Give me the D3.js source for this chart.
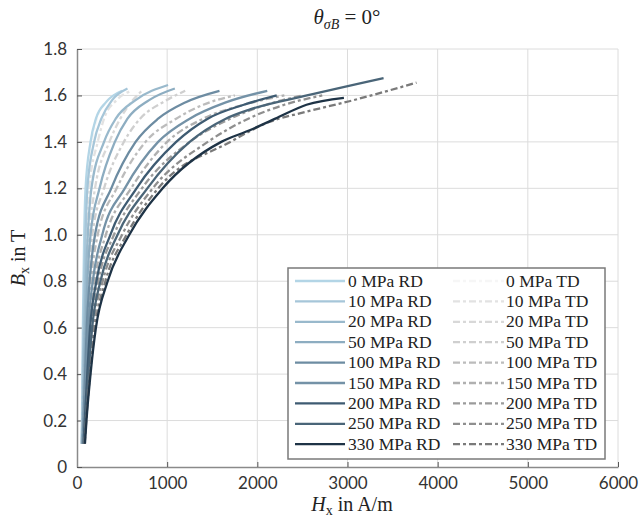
<!DOCTYPE html>
<html><head><meta charset="utf-8">
<script src="https://cdn.jsdelivr.net/npm/d3@7"></script>
<style>
html,body{margin:0;padding:0;background:#fff;}
svg{display:block;}
</style></head>
<body>
<script>
// ---- data (H in A/m, B in T) ----
const stresses = [0, 10, 20, 50, 100, 150, 200, 250, 330];
const xTicks = [0, 1000, 2000, 3000, 4000, 5000, 6000];
const yTicks = [0, 0.2, 0.4, 0.6, 0.8, 1.0, 1.2, 1.4, 1.6, 1.8];

const rd0   = [[50,0.1],[55,0.2],[60,0.4],[65,0.6],[72,0.8],[80,1.0],[95,1.2],[150,1.4],[210,1.5],[320,1.57],[500,1.62]];
const rd10  = [[52,0.1],[58,0.2],[65,0.4],[72,0.6],[82,0.8],[95,1.0],[115,1.2],[190,1.4],[270,1.5],[390,1.58],[560,1.63]];
const rd20  = [[55,0.1],[62,0.2],[72,0.4],[82,0.6],[97,0.8],[120,1.0],[160,1.2],[300,1.4],[430,1.5],[650,1.58],[1010,1.645]];
const rd50  = [[58,0.1],[66,0.2],[80,0.4],[95,0.6],[115,0.8],[150,1.0],[250,1.2],[420,1.4],[560,1.5],[800,1.58],[1085,1.63]];
const rd100 = [[62,0.1],[72,0.2],[90,0.4],[108,0.6],[140,0.8],[200,1.0],[380,1.2],[650,1.4],[900,1.5],[1200,1.57],[1580,1.62]];
const rd150 = [[67,0.1],[80,0.2],[102,0.4],[125,0.6],[175,0.8],[280,1.0],[530,1.2],[900,1.4],[1250,1.5],[1650,1.57],[2110,1.62]];
const rd200 = [[73,0.1],[86,0.2],[114,0.4],[145,0.6],[215,0.8],[370,1.0],[660,1.2],[1100,1.4],[1450,1.5],[1850,1.56],[2215,1.6]];
const rd250 = [[79,0.1],[94,0.2],[128,0.4],[168,0.6],[260,0.8],[450,1.0],[780,1.2],[1250,1.4],[1650,1.5],[1920,1.54],[2550,1.6],[3400,1.675]];
const rd330 = [[88,0.1],[105,0.2],[150,0.4],[210,0.6],[340,0.8],[580,1.0],[950,1.2],[1600,1.4],[1915,1.45],[2200,1.5],[2545,1.56],[2960,1.59]];

const td0   = [[50,0.1],[56,0.2],[62,0.4],[68,0.6],[76,0.8],[86,1.0],[105,1.2],[165,1.4],[220,1.5],[320,1.57],[480,1.61]];
const td10  = [[53,0.1],[60,0.2],[68,0.4],[76,0.6],[88,0.8],[105,1.0],[135,1.2],[230,1.4],[300,1.5],[440,1.58],[600,1.62]];
const td20  = [[56,0.1],[64,0.2],[76,0.4],[88,0.6],[105,0.8],[135,1.0],[200,1.2],[360,1.4],[480,1.5],[620,1.58],[720,1.62]];
const td50  = [[60,0.1],[68,0.2],[84,0.4],[100,0.6],[125,0.8],[170,1.0],[300,1.2],[520,1.4],[700,1.5],[950,1.57],[1200,1.62]];
const td100 = [[64,0.1],[75,0.2],[95,0.4],[115,0.6],[155,0.8],[230,1.0],[440,1.2],[760,1.4],[1100,1.5],[1400,1.56],[1750,1.6]];
const td150 = [[70,0.1],[83,0.2],[108,0.4],[135,0.6],[195,0.8],[320,1.0],[600,1.2],[1000,1.4],[1400,1.5],[1850,1.56],[2300,1.6]];
const td200 = [[76,0.1],[90,0.2],[120,0.4],[155,0.6],[235,0.8],[410,1.0],[720,1.2],[1250,1.4],[1700,1.5],[2100,1.56],[2500,1.6]];
const td250 = [[82,0.1],[98,0.2],[136,0.4],[180,0.6],[285,0.8],[500,1.0],[840,1.2],[1450,1.4],[1900,1.5],[2300,1.56],[2720,1.6]];
const td330 = [[85,0.1],[102,0.2],[145,0.4],[200,0.6],[315,0.8],[550,1.0],[900,1.2],[1700,1.4],[2140,1.487],[2545,1.53],[3020,1.575],[3765,1.655]];

const rdSeries = [rd0, rd10, rd20, rd50, rd100, rd150, rd200, rd250, rd330];
const tdSeries = [td0, td10, td20, td50, td100, td150, td200, td250, td330];
const rdColors = ['#b3d5e6','#a6c6d9','#99b9cc','#8dadc1','#6d8ca2','#7492a7','#3e5b72','#4a6578','#1e3346'];
const tdColors = ['#f6f6f6','#e2e2e2','#d8d8d8','#cfcfcf','#bcbcbc','#b0b0b0','#9b9b9b','#8f8f8f','#7a7a7a'];

(function () {
// ---- layout ----
const W = 641, Hh = 520;
const mLeft = 77, mRight = 618, mTop = 49, mBottom = 467;

const svg = d3.select('body').append('svg').attr('width', W).attr('height', Hh);
const x = d3.scaleLinear().domain([0, 6000]).range([mLeft, mRight]);
const y = d3.scaleLinear().domain([0, 1.8]).range([mBottom, mTop]);

// grid
svg.append('g').selectAll('line').data(xTicks.slice(1)).join('line')
  .attr('x1', d => x(d)).attr('x2', d => x(d)).attr('y1', mTop).attr('y2', mBottom)
  .attr('stroke', '#dcdcdc').attr('stroke-width', 1);
svg.append('g').selectAll('line').data(yTicks.slice(1)).join('line')
  .attr('x1', mLeft).attr('x2', mRight).attr('y1', d => y(d)).attr('y2', d => y(d))
  .attr('stroke', '#dcdcdc').attr('stroke-width', 1);

// axes
const xAxis = d3.axisBottom(x).tickValues(xTicks).tickSizeInner(-5).tickSizeOuter(0).tickPadding(10).tickFormat(d3.format('d'));
const yAxis = d3.axisLeft(y).tickValues(yTicks).tickSizeInner(-5).tickSizeOuter(0).tickPadding(10).tickFormat(d => d === 0 ? '0' : d3.format('.1f')(d));
const gx = svg.append('g').attr('transform', `translate(0,${mBottom})`).call(xAxis);
const gy = svg.append('g').attr('transform', `translate(${mLeft},0)`).call(yAxis);
[gx, gy].forEach(g => {
  g.select('.domain').attr('stroke', '#8a8a8a').attr('stroke-width', 1.5);
  g.selectAll('.tick line').attr('stroke', '#555').attr('stroke-width', 1);
  g.selectAll('.tick text').attr('fill', '#333').style('font-family', 'Lato, "Open Sans", sans-serif').style('font-size', '17px');
});
gx.selectAll('.tick').filter(d => d === 0).select('line').remove();

// curves
const line = d3.line().x(d => x(d[0])).y(d => y(d[1])).curve(d3.curveMonotoneX);
const curves = svg.append('g');
stresses.forEach((s, i) => {
  curves.append('path').datum(tdSeries[i]).attr('d', line).attr('fill', 'none')
    .attr('stroke', tdColors[i]).attr('stroke-width', 2.3).attr('stroke-dasharray', '7,3,3,3');
  curves.append('path').datum(rdSeries[i]).attr('d', line).attr('fill', 'none')
    .attr('stroke', rdColors[i]).attr('stroke-width', 2.3);
});

// legend
const serif = '"Liberation Serif", "DejaVu Serif", serif';
const lg = svg.append('g');
lg.append('rect').attr('x', 288).attr('y', 268).attr('width', 317).attr('height', 191)
  .attr('fill', '#fff').attr('stroke', '#7a7a7a').attr('stroke-width', 1.5);
stresses.forEach((s, i) => {
  const yy = 281 + i * 20.4;
  lg.append('line').attr('x1', 295).attr('x2', 345).attr('y1', yy).attr('y2', yy)
    .attr('stroke', rdColors[i]).attr('stroke-width', 2.3);
  lg.append('text').attr('x', 348).attr('y', yy + 5.5).text(`${s} MPa RD`)
    .style('font-family', serif).style('font-size', '17.5px').attr('fill', '#222');
  lg.append('line').attr('x1', 453).attr('x2', 504).attr('y1', yy).attr('y2', yy)
    .attr('stroke', tdColors[i]).attr('stroke-width', 2.3).attr('stroke-dasharray', '7,3,3,3');
  lg.append('text').attr('x', 506).attr('y', yy + 5.5).text(`${s} MPa TD`)
    .style('font-family', serif).style('font-size', '17.5px').attr('fill', '#222');
});

// title
const t = svg.append('text').attr('x', 347).attr('y', 24).attr('text-anchor', 'middle')
  .style('font-family', serif).style('font-size', '21px').attr('fill', '#222');
t.append('tspan').attr('font-style', 'italic').text('θ');
t.append('tspan').attr('font-style', 'italic').attr('font-size', '14px').attr('dy', 5).text('σB');
t.append('tspan').attr('dy', -5).text(' = 0°');

// x label
const xl = svg.append('text').attr('x', 352).attr('y', 511).attr('text-anchor', 'middle')
  .style('font-family', serif).style('font-size', '20px').attr('fill', '#222');
xl.append('tspan').attr('font-style', 'italic').text('H');
xl.append('tspan').attr('font-size', '14px').attr('dy', 4).text('x');
xl.append('tspan').attr('dy', -4).text(' in A/m');

// y label
const yl = svg.append('text').attr('transform', 'translate(25,258) rotate(-90)').attr('text-anchor', 'middle')
  .style('font-family', serif).style('font-size', '20px').attr('fill', '#222');
yl.append('tspan').attr('font-style', 'italic').text('B');
yl.append('tspan').attr('font-size', '14px').attr('dy', 4).text('x');
yl.append('tspan').attr('dy', -4).text(' in T');
})();
</script>
</body></html>
